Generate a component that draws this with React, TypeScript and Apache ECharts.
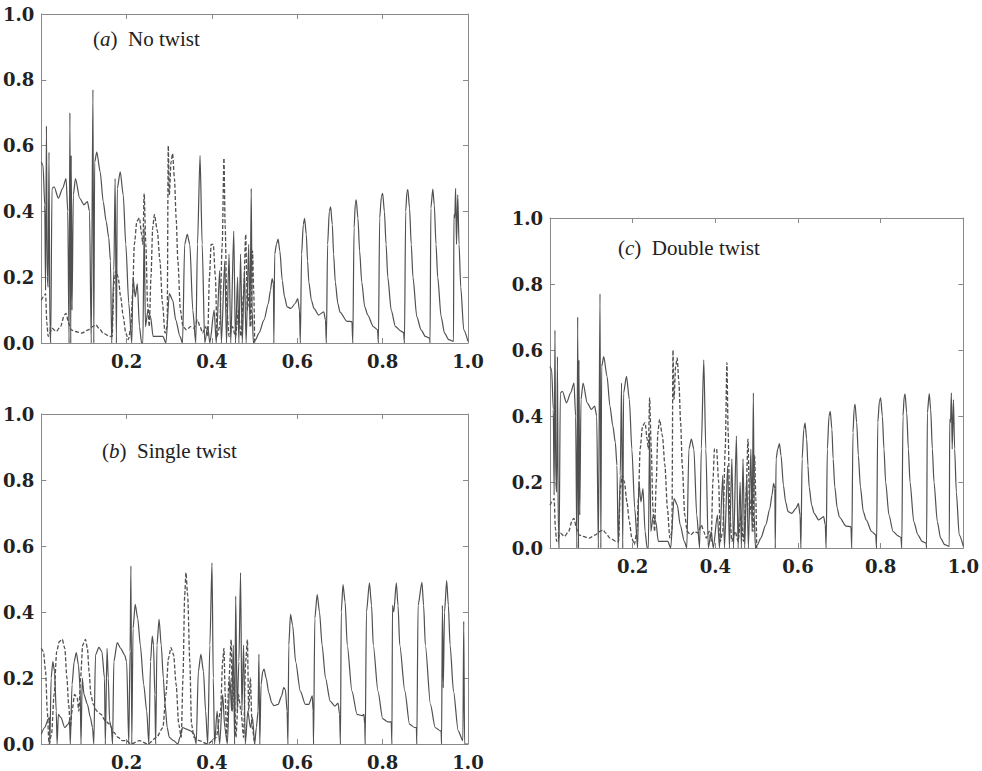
import React, { useEffect, useRef } from 'react';
import * as echarts from 'echarts';

type Pt = [number, number];

// ---- data (x, value) ----
const noTwistSolid: Pt[] = [
  [0, 0.55], [0.004, 0.54], [0.008, 0.42], [0.010, 0.16], [0.012, 0.66], [0.014, 0.2], [0.016, 0.17], [0.018, 0.58],
  [0.020, 0.05], [0.022, 0.0], [0.025, 0.47], [0.030, 0.475], [0.040, 0.44], [0.050, 0.47], [0.058, 0.50], [0.062, 0.40],
  [0.065, 0.0], [0.067, 0.70], [0.069, 0.0], [0.070, 0.57], [0.072, 0.1], [0.075, 0.45], [0.080, 0.50], [0.090, 0.44],
  [0.100, 0.42], [0.108, 0.43], [0.113, 0.40], [0.117, 0.0], [0.121, 0.77], [0.123, 0.0], [0.125, 0.55], [0.130, 0.58],
  [0.138, 0.52], [0.145, 0.43], [0.152, 0.37], [0.158, 0.32], [0.162, 0.25], [0.165, 0.0], [0.170, 0.22], [0.173, 0.5],
  [0.176, 0.0], [0.178, 0.47], [0.185, 0.52], [0.192, 0.45], [0.198, 0.30], [0.205, 0.12], [0.212, 0.0], [0.215, 0.2],
  [0.220, 0.14], [0.225, 0.18], [0.230, 0.05], [0.235, 0.0], [0.238, 0.0], [0.241, 0.35], [0.244, 0.05], [0.250, 0.1],
  [0.256, 0.08], [0.262, 0.02], [0.275, 0.02], [0.285, 0.02], [0.292, 0.0], [0.300, 0.15], [0.308, 0.13], [0.315, 0.07],
  [0.325, 0.02], [0.331, 0.0], [0.336, 0.3], [0.342, 0.33], [0.348, 0.3], [0.355, 0.1], [0.362, 0.0], [0.366, 0.3],
  [0.372, 0.57], [0.377, 0.3], [0.383, 0.0], [0.390, 0.05], [0.395, 0.0], [0.405, 0.1], [0.410, 0.0], [0.418, 0.22],
  [0.422, 0.0], [0.430, 0.25], [0.434, 0.0], [0.440, 0.27], [0.444, 0.0], [0.451, 0.34], [0.455, 0.0], [0.460, 0.2],
  [0.463, 0.0], [0.467, 0.27], [0.471, 0.0], [0.476, 0.22], [0.480, 0.0], [0.486, 0.3], [0.489, 0.05], [0.492, 0.47],
  [0.494, 0.1], [0.497, 0.0], [0.502, 0.01], [0.510, 0.03], [0.522, 0.07], [0.532, 0.12], [0.537, 0.16], [0.541, 0.196],
  [0.544, 0.18], [0.545, 0.0], [0.547, 0.27], [0.551, 0.30], [0.555, 0.316], [0.559, 0.28], [0.5647, 0.19], [0.570, 0.14],
  [0.576, 0.11], [0.585, 0.105], [0.595, 0.12], [0.601, 0.135], [0.605, 0.10], [0.607, 0.0], [0.610, 0.27], [0.614, 0.36],
  [0.617, 0.379], [0.621, 0.33], [0.624, 0.25], [0.627, 0.185], [0.633, 0.13], [0.639, 0.105], [0.650, 0.085], [0.662, 0.095], [0.666, 0.07],
  [0.668, 0.0], [0.671, 0.3], [0.675, 0.40], [0.678, 0.414], [0.682, 0.36], [0.685, 0.27], [0.689, 0.185], [0.695, 0.12], [0.700, 0.094],
  [0.7165, 0.066], [0.728, 0.065], [0.730, 0.0], [0.733, 0.35], [0.736, 0.425], [0.738, 0.435], [0.742, 0.38], [0.746, 0.28], [0.751, 0.185],
  [0.758, 0.11], [0.765, 0.085], [0.778, 0.05], [0.788, 0.04], [0.790, 0.0], [0.793, 0.38], [0.797, 0.445], [0.800, 0.455],
  [0.804, 0.40], [0.808, 0.3], [0.812, 0.2], [0.820, 0.1], [0.830, 0.05], [0.842, 0.037], [0.849, 0.032], [0.851, 0.0], [0.854, 0.40],
  [0.857, 0.46], [0.859, 0.466], [0.863, 0.41], [0.867, 0.3], [0.871, 0.2], [0.880, 0.08], [0.890, 0.04], [0.900, 0.02], [0.910, 0.015],
  [0.911, 0.0], [0.913, 0.41], [0.9175, 0.468], [0.921, 0.42], [0.925, 0.3], [0.929, 0.2], [0.937, 0.08], [0.945, 0.03], [0.955, 0.01],
  [0.966, 0.005], [0.967, 0.39], [0.969, 0.38], [0.971, 0.47], [0.973, 0.3], [0.976, 0.45], [0.979, 0.3], [0.983, 0.17],
  [0.990, 0.04], [1.0, 0.005],
];

const noTwistDashed: Pt[] = [
  [0, 0.13], [0.005, 0.14], [0.010, 0.15], [0.013, 0.06], [0.016, 0.02], [0.020, 0.03], [0.025, 0.045], [0.035, 0.035],
  [0.045, 0.05], [0.054, 0.085], [0.058, 0.09], [0.064, 0.06], [0.070, 0.04], [0.080, 0.035], [0.095, 0.03], [0.110, 0.04],
  [0.120, 0.05], [0.128, 0.055], [0.135, 0.045], [0.145, 0.03], [0.160, 0.02], [0.166, 0.02], [0.170, 0.18], [0.175, 0.22],
  [0.180, 0.2], [0.186, 0.14], [0.192, 0.08], [0.198, 0.03], [0.204, 0.01], [0.210, 0.05], [0.214, 0.15], [0.218, 0.3],
  [0.224, 0.37], [0.230, 0.38], [0.235, 0.33], [0.238, 0.3], [0.241, 0.455], [0.245, 0.3], [0.249, 0.12], [0.253, 0.05],
  [0.257, 0.2], [0.261, 0.35], [0.265, 0.39], [0.272, 0.34], [0.278, 0.25], [0.284, 0.12], [0.290, 0.03], [0.295, 0.05],
  [0.2975, 0.60], [0.300, 0.45], [0.304, 0.55], [0.3076, 0.576], [0.312, 0.5], [0.316, 0.38], [0.320, 0.25], [0.326, 0.1],
  [0.332, 0.05], [0.340, 0.04], [0.350, 0.05], [0.358, 0.045], [0.366, 0.07], [0.372, 0.05], [0.378, 0.03], [0.385, 0.05],
  [0.390, 0.02], [0.394, 0.2], [0.398, 0.3], [0.403, 0.30], [0.408, 0.2], [0.412, 0.02], [0.418, 0.05], [0.424, 0.3],
  [0.428, 0.562], [0.431, 0.35], [0.435, 0.1], [0.440, 0.02], [0.448, 0.05], [0.455, 0.02], [0.462, 0.1], [0.468, 0.02],
  [0.474, 0.15], [0.479, 0.33], [0.483, 0.1], [0.487, 0.15], [0.491, 0.05], [0.495, 0.28], [0.498, 0.15], [0.500, 0.0],
];

const singleTwistSolid: Pt[] = [
  [0, 0.03], [0.008, 0.05], [0.016, 0.075], [0.019, 0.08], [0.020, 0.0], [0.023, 0.2], [0.027, 0.25], [0.031, 0.22],
  [0.035, 0.1], [0.037, 0.0], [0.040, 0.09], [0.046, 0.08], [0.055, 0.05], [0.063, 0.06], [0.066, 0.07], [0.068, 0.0],
  [0.072, 0.18], [0.077, 0.25], [0.082, 0.277], [0.087, 0.24], [0.091, 0.17], [0.093, 0.0], [0.096, 0.2], [0.100, 0.15],
  [0.108, 0.12], [0.115, 0.08], [0.120, 0.05], [0.123, 0.0], [0.127, 0.27], [0.135, 0.293], [0.142, 0.28], [0.148, 0.2],
  [0.150, 0.0], [0.154, 0.29], [0.157, 0.2], [0.160, 0.07], [0.164, 0.05], [0.167, 0.0], [0.170, 0.25], [0.178, 0.307],
  [0.186, 0.29], [0.195, 0.27], [0.200, 0.25], [0.205, 0.0], [0.208, 0.28], [0.210, 0.54], [0.212, 0.0], [0.215, 0.35],
  [0.220, 0.423], [0.226, 0.38], [0.232, 0.3], [0.240, 0.18], [0.247, 0.1], [0.252, 0.0], [0.256, 0.25], [0.260, 0.327],
  [0.263, 0.3], [0.266, 0.15], [0.268, 0.0], [0.271, 0.3], [0.276, 0.378], [0.281, 0.3], [0.286, 0.2], [0.290, 0.12],
  [0.295, 0.05], [0.300, 0.02], [0.310, 0.01], [0.320, 0.0], [0.325, 0.02], [0.331, 0.05], [0.340, 0.045], [0.350, 0.04],
  [0.358, 0.03], [0.363, 0.0], [0.368, 0.22], [0.374, 0.272], [0.380, 0.22], [0.385, 0.1], [0.390, 0.0], [0.395, 0.3],
  [0.400, 0.549], [0.403, 0.2], [0.406, 0.0], [0.412, 0.1], [0.418, 0.0], [0.425, 0.15], [0.430, 0.05], [0.436, 0.0],
  [0.442, 0.2], [0.446, 0.1], [0.450, 0.3], [0.453, 0.0], [0.4556, 0.448], [0.459, 0.1], [0.463, 0.25], [0.467, 0.519],
  [0.470, 0.1], [0.474, 0.3], [0.478, 0.0], [0.484, 0.1], [0.490, 0.05], [0.495, 0.08], [0.500, 0.0], [0.504, 0.05],
  [0.508, 0.1], [0.510, 0.272], [0.512, 0.0], [0.515, 0.18], [0.519, 0.22], [0.522, 0.227], [0.527, 0.2], [0.533, 0.156],
  [0.540, 0.125], [0.545, 0.116], [0.555, 0.12], [0.563, 0.145], [0.568, 0.171], [0.572, 0.165], [0.576, 0.1], [0.578, 0.0],
  [0.580, 0.3], [0.584, 0.393], [0.589, 0.36], [0.596, 0.25], [0.607, 0.16], [0.619, 0.12], [0.627, 0.12], [0.635, 0.146],
  [0.637, 0.1], [0.638, 0.0], [0.641, 0.38], [0.6465, 0.453], [0.652, 0.4], [0.658, 0.30], [0.666, 0.2], [0.677, 0.13],
  [0.688, 0.115], [0.6955, 0.124], [0.699, 0.09], [0.701, 0.0], [0.703, 0.4], [0.707, 0.483], [0.712, 0.43], [0.717, 0.3],
  [0.728, 0.16], [0.740, 0.09], [0.752, 0.086], [0.756, 0.09], [0.758, 0.06], [0.759, 0.0], [0.762, 0.4], [0.769, 0.488],
  [0.774, 0.42], [0.778, 0.3], [0.789, 0.16], [0.800, 0.077], [0.812, 0.067], [0.820, 0.067], [0.8217, 0.0], [0.823, 0.42],
  [0.826, 0.40], [0.832, 0.488], [0.836, 0.42], [0.840, 0.3], [0.852, 0.16], [0.863, 0.06], [0.875, 0.05], [0.879, 0.05],
  [0.880, 0.0], [0.883, 0.42], [0.892, 0.49], [0.896, 0.42], [0.900, 0.3], [0.912, 0.12], [0.923, 0.05], [0.935, 0.04],
  [0.937, 0.04], [0.938, 0.0], [0.940, 0.42], [0.942, 0.17], [0.945, 0.4], [0.950, 0.495], [0.954, 0.42], [0.958, 0.3],
  [0.966, 0.16], [0.977, 0.04], [0.988, 0.01], [0.990, 0.372], [0.992, 0.0], [1.0, 0.0],
];

const singleTwistDashed: Pt[] = [
  [0, 0.29], [0.005, 0.28], [0.010, 0.22], [0.014, 0.1], [0.018, 0.0], [0.024, 0.03], [0.030, 0.15], [0.036, 0.28],
  [0.042, 0.31], [0.049, 0.317], [0.055, 0.29], [0.060, 0.2], [0.064, 0.12], [0.068, 0.05], [0.072, 0.1], [0.078, 0.15],
  [0.084, 0.14], [0.088, 0.1], [0.092, 0.2], [0.097, 0.3], [0.1035, 0.317], [0.108, 0.29], [0.112, 0.22], [0.116, 0.15],
  [0.122, 0.12], [0.130, 0.1], [0.140, 0.09], [0.150, 0.07], [0.160, 0.06], [0.170, 0.035], [0.180, 0.02], [0.190, 0.01],
  [0.200, 0.01], [0.210, 0.0], [0.230, 0.01], [0.250, 0.0], [0.270, 0.02], [0.285, 0.05], [0.292, 0.15], [0.298, 0.26],
  [0.304, 0.292], [0.310, 0.27], [0.316, 0.18], [0.322, 0.06], [0.328, 0.02], [0.332, 0.2], [0.336, 0.45], [0.339, 0.519],
  [0.343, 0.45], [0.348, 0.25], [0.352, 0.06], [0.358, 0.02], [0.370, 0.01], [0.390, 0.0], [0.410, 0.02], [0.420, 0.1],
  [0.425, 0.25], [0.428, 0.29], [0.431, 0.15], [0.434, 0.02], [0.440, 0.2], [0.445, 0.316], [0.448, 0.1], [0.452, 0.2],
  [0.456, 0.02], [0.462, 0.15], [0.468, 0.1], [0.474, 0.02], [0.479, 0.25], [0.483, 0.316], [0.486, 0.1], [0.490, 0.2],
  [0.494, 0.05], [0.500, 0.0],
];

// The double-twist panel reproduces the no-twist curves in the reference
const doubleTwistSolid: Pt[] = noTwistSolid;
const doubleTwistDashed: Pt[] = noTwistDashed;

const panelLetters = ['a', 'b', 'c'];
const panelNames = ['No twist', 'Single twist', 'Double twist'];
const tickValues = [0, 0.2, 0.4, 0.6, 0.8, 1.0];

// ---- layout ----
const grids = [
  { left: 40, top: 14, width: 428, height: 329 },
  { left: 40, top: 414, width: 428, height: 331 },
  { left: 550, top: 218, width: 427, height: 330 },
];
const titlePos = [
  { left: 93, top: 28 },
  { left: 102, top: 440 },
  { left: 618, top: 237 },
];

const AXIS_COLOR = '#8a8a8a';
const LINE_COLOR = '#505050';
const LABEL_FONT = {
  fontFamily: 'DejaVu Serif',
  fontWeight: 'bold' as const,
  fontSize: 18,
  color: '#222',
};

export default function App() {
  const ref = useRef<HTMLDivElement>(null);

  useEffect(() => {
    if (!ref.current) return;
    const chart = echarts.init(ref.current, undefined, { renderer: 'svg' });
    const fmt = (v: number) => {
      const t = tickValues.find((k) => Math.abs(k - v) < 1e-9);
      return t === undefined ? '' : t.toFixed(1);
    };

    const xAxis: any[] = [];
    const yAxis: any[] = [];
    grids.forEach((_, i) => {
      const base = {
        type: 'value',
        gridIndex: i,
        min: 0,
        max: 1,
        interval: 0.2,
        splitLine: { show: false },
        axisLine: { show: true, onZero: false, lineStyle: { color: AXIS_COLOR, width: 1 } },
        axisTick: { show: true, inside: true, length: 5, lineStyle: { color: AXIS_COLOR } },
      };
      xAxis.push({
        ...base,
        position: 'bottom',
        axisLabel: { ...LABEL_FONT, margin: 9, showMinLabel: false, formatter: (v: number) => (v === 0 ? '' : fmt(v)) },
      });
      xAxis.push({ ...base, position: 'top', axisLabel: { show: false } });
      yAxis.push({
        ...base,
        position: 'left',
        axisLabel: { ...LABEL_FONT, margin: 7, formatter: fmt },
      });
      yAxis.push({ ...base, position: 'right', axisLabel: { show: false } });
    });

    const panelData = [
      [noTwistSolid, noTwistDashed],
      [singleTwistSolid, singleTwistDashed],
      [doubleTwistSolid, doubleTwistDashed],
    ];
    const series: any[] = [];
    panelData.forEach(([solid, dashed], i) => {
      series.push({
        type: 'line',
        xAxisIndex: i * 2,
        yAxisIndex: i * 2,
        data: dashed,
        showSymbol: false,
        symbol: 'none',
        smooth: 0.25,
        smoothMonotone: 'x',
        lineStyle: { color: LINE_COLOR, width: 1.3, type: [4, 2] },
        z: 3,
      });
      series.push({
        type: 'line',
        xAxisIndex: i * 2,
        yAxisIndex: i * 2,
        data: solid,
        showSymbol: false,
        symbol: 'none',
        smooth: 0.25,
        smoothMonotone: 'x',
        lineStyle: { color: LINE_COLOR, width: 1.2, type: 'solid' },
        z: 2,
      });
    });

    const title = panelLetters.map((letter, i) => ({
      text: `({i|${letter}})  ${panelNames[i]}`,
      left: titlePos[i].left,
      top: titlePos[i].top,
      padding: 0,
      textStyle: {
        fontFamily: 'Liberation Serif',
        fontWeight: 'normal',
        fontSize: 21,
        color: '#222',
        rich: {
          i: { fontFamily: 'Liberation Serif', fontStyle: 'italic', fontSize: 21, color: '#222' },
        },
      },
    }));

    chart.setOption({
      animation: false,
      backgroundColor: '#ffffff',
      title,
      grid: grids.map((g) => ({ ...g, containLabel: false })),
      xAxis,
      yAxis,
      series,
    });
    return () => chart.dispose();
  }, []);

  return (
    <div
      ref={ref}
      style={{ position: 'absolute', left: 0, top: 0, width: 982, height: 771 }}
    />
  );
}
